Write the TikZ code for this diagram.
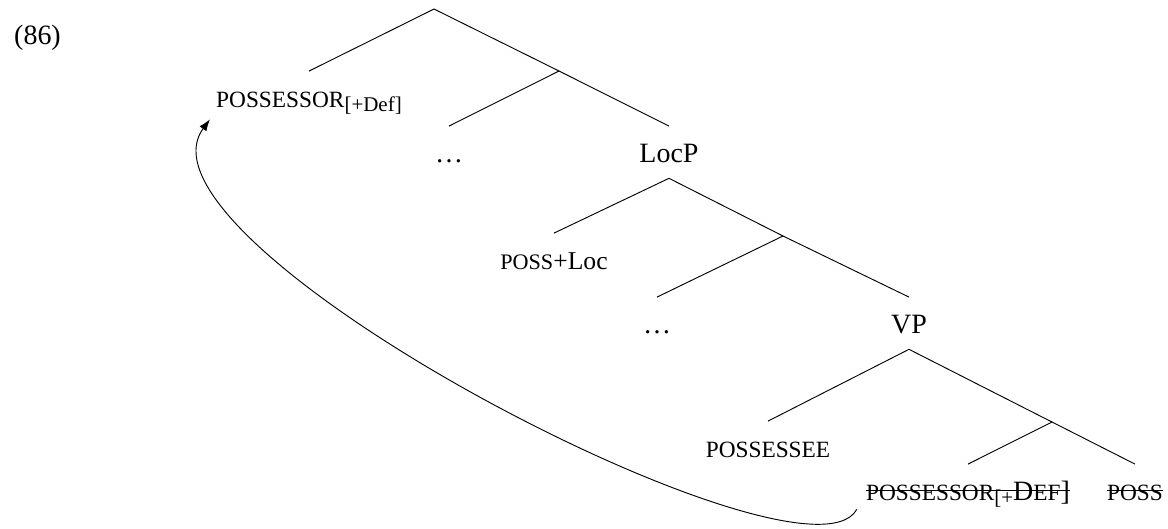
\documentclass[12pt,tikz,border=0pt]{standalone}
\usepackage{fontspec}
\setmainfont{Liberation Serif}
\usetikzlibrary{trees, arrows.meta}
\newcommand{\smc}[1]{{\fontsize{10}{12}\selectfont #1}}

\begin{document}
\begin{tikzpicture}[%
x=0.429pt, y=-0.429pt, thin,
lbl/.style={inner sep=3pt, outer sep=4pt, text height=8.4pt, text depth=0pt},
branch/.style={inner sep=0pt, outer sep=0pt, minimum size=0pt},
strike/.style={line width=0.5pt},
level 1/.style={grow via three points={one child at (0,75.1) and
    two children at (-125,88.2) and (125,62)}},
level 2/.style={grow via three points={one child at (0,81.2) and
    two children at (-110,81.2) and (110,81.2)}},
level 3/.style={grow via three points={one child at (-0.5,95.4) and
    two children at (-115,107) and (114,83.8)}},
level 4/.style={grow via three points={one child at (0,87.2) and
    two children at (-126,87.2) and (126,87.2)}},
level 5/.style={grow via three points={one child at (1,111.4) and
    two children at (-141,124) and (143,98.8)}},
level 6/.style={grow via three points={one child at (-0.5,68.2) and
    two children at (-84,68.2) and (83,68.2)}},
edge from parent path={(\tikzparentnode.south) -- (\tikzchildnode.north)}]
\useasboundingbox (0,0) rectangle (1168,528);
\node[anchor=base] (exnum) at (37.5,44) {(86)};
\node[branch] (top) at (434,9) {}
child {node[lbl] (possr) {\smc{POSSESSOR}\raisebox{-2pt}{\fontsize{9}{10}\selectfont[+Def]}}}
child {node[branch] (b1) {}
  child {node[lbl] (dots1) {\dots}}
  child {node[lbl] (locp) {LocP}
    child {node[lbl] (possloc) {{\fontsize{9.5}{11}\selectfont POSS}{\fontsize{11}{13}\selectfont +Loc}}}
    child {node[branch] (b2) {}
      child {node[lbl] (dots2) {\dots}}
      child {node[lbl] (vp) {VP}
        child {node[lbl] (possee) {\smc{POSSESSEE}}}
        child {node[branch] (b3) {}
          child {node[lbl] (trace) {\smc{POSSESSOR}\raisebox{-2pt}{\fontsize{9}{10}\selectfont[+}D\smc{EF}]}}
          child {node[lbl] (tposs) {\smc{POSS}}}
        }
      }
    }
  }
};
% struck-out copies
\draw[strike] ([xshift=7pt]trace.west) -- ([xshift=-7pt]trace.east);
\draw[strike] ([xshift=7pt]tposs.west) -- ([xshift=-7pt]tposs.east);
% movement
\draw[-{Latex[length=5pt,width=3.6pt]}] ([xshift=3pt,yshift=3pt]trace.south west)
  .. controls +(-50,92) and +(-92,125) .. ([xshift=4.3pt,yshift=1.7pt]possr.south west);
\end{tikzpicture}
\end{document}
